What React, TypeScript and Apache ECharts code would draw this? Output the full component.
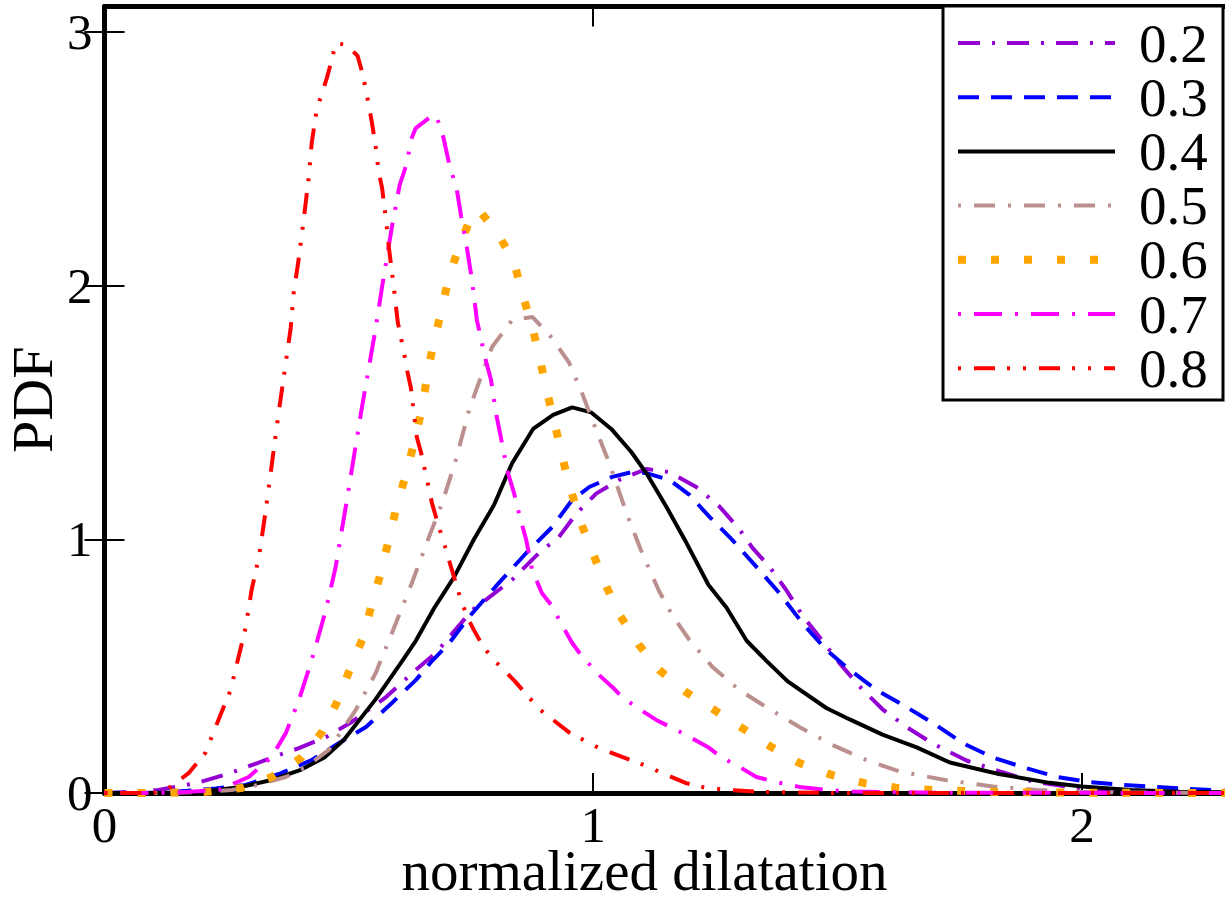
import React, { useEffect, useRef } from 'react';
import * as echarts from 'echarts';

const seriesNames = ['0.2', '0.3', '0.4', '0.5', '0.6', '0.7', '0.8'];
const xTicks = [0, 1, 2];
const yTicks = [0, 1, 2, 3];
const xTitle = 'normalized dilatation';
const yTitle = 'PDF';

const pdf02 = [[0,0],[0.05,0.003],[0.11,0.012],[0.19,0.04],[0.26,0.08],[0.35,0.145],[0.398,0.177],[0.453,0.22],[0.506,0.28],[0.576,0.378],[0.637,0.485],[0.678,0.552],[0.752,0.72],[0.834,0.84],[0.889,0.946],[0.93,1.009],[0.965,1.10],[1.006,1.18],[1.053,1.234],[1.109,1.277],[1.156,1.265],[1.211,1.206],[1.258,1.13],[1.299,1.04],[1.326,0.966],[1.361,0.891],[1.395,0.80],[1.428,0.70],[1.463,0.615],[1.504,0.512],[1.545,0.42],[1.592,0.33],[1.641,0.26],[1.695,0.195],[1.764,0.128],[1.832,0.085],[1.9,0.045],[1.969,0.025],[2.037,0.012],[2.1,0.006],[2.2,0.002],[2.3,0.001]];
const pdf03 = [[0,0],[0.1,0.002],[0.15,0.006],[0.227,0.018],[0.289,0.032],[0.357,0.075],[0.424,0.13],[0.48,0.197],[0.535,0.26],[0.588,0.355],[0.637,0.445],[0.67,0.52],[0.705,0.59],[0.746,0.694],[0.807,0.828],[0.863,0.946],[0.916,1.048],[0.957,1.155],[0.992,1.206],[1.039,1.246],[1.08,1.265],[1.109,1.261],[1.156,1.234],[1.197,1.175],[1.238,1.088],[1.285,0.997],[1.334,0.891],[1.381,0.788],[1.428,0.67],[1.477,0.564],[1.525,0.485],[1.58,0.406],[1.641,0.339],[1.695,0.276],[1.756,0.197],[1.818,0.14],[1.879,0.102],[1.949,0.063],[2.016,0.043],[2.084,0.032],[2.154,0.024],[2.22,0.016],[2.3,0.008]];
const pdf04 = [[0,0],[0.1,0.0],[0.2,0.005],[0.28,0.024],[0.34,0.05],[0.40,0.09],[0.45,0.14],[0.49,0.21],[0.555,0.37],[0.609,0.52],[0.637,0.60],[0.675,0.73],[0.715,0.85],[0.756,1.0],[0.797,1.135],[0.834,1.30],[0.877,1.435],[0.918,1.49],[0.957,1.52],[0.996,1.50],[1.037,1.435],[1.078,1.344],[1.109,1.26],[1.15,1.127],[1.191,0.985],[1.236,0.82],[1.273,0.73],[1.314,0.60],[1.355,0.52],[1.398,0.44],[1.477,0.335],[1.525,0.29],[1.592,0.23],[1.662,0.18],[1.73,0.12],[1.83,0.075],[1.934,0.04],[2.0,0.026],[2.1,0.012],[2.2,0.005],[2.3,0.003]];
const pdf05 = [[0,0],[0.1,0.0],[0.2,0.004],[0.26,0.012],[0.309,0.03],[0.371,0.063],[0.412,0.102],[0.459,0.17],[0.514,0.327],[0.555,0.473],[0.588,0.63],[0.629,0.828],[0.664,1.009],[0.691,1.143],[0.719,1.313],[0.746,1.51],[0.773,1.655],[0.793,1.758],[0.834,1.864],[0.876,1.876],[0.916,1.793],[0.951,1.695],[0.977,1.577],[1.006,1.431],[1.033,1.30],[1.068,1.104],[1.10,0.946],[1.135,0.795],[1.162,0.70],[1.197,0.603],[1.244,0.497],[1.299,0.406],[1.354,0.339],[1.422,0.26],[1.49,0.189],[1.559,0.13],[1.627,0.085],[1.72,0.051],[1.818,0.026],[1.908,0.012],[2.0,0.005],[2.1,0.002],[2.3,0.0]];
const pdf06 = [[0,0],[0.1,0.0],[0.2,0.003],[0.28,0.02],[0.342,0.063],[0.402,0.138],[0.445,0.24],[0.475,0.355],[0.5,0.477],[0.527,0.603],[0.545,0.729],[0.564,0.859],[0.58,0.985],[0.596,1.115],[0.615,1.245],[0.633,1.376],[0.648,1.502],[0.66,1.636],[0.672,1.766],[0.689,1.896],[0.703,2.02],[0.725,2.152],[0.752,2.278],[0.765,2.30],[0.803,2.211],[0.838,2.093],[0.855,1.967],[0.875,1.84],[0.891,1.71],[0.906,1.577],[0.922,1.45],[0.937,1.32],[0.955,1.19],[0.975,1.064],[1.0,0.942],[1.026,0.818],[1.056,0.696],[1.093,0.585],[1.135,0.485],[1.19,0.398],[1.248,0.327],[1.305,0.256],[1.365,0.181],[1.422,0.118],[1.488,0.071],[1.555,0.039],[1.623,0.02],[1.693,0.012],[1.8,0.005],[2.0,0.001],[2.3,0]];
const pdf07 = [[0,0],[0.1,0.0],[0.15,0.002],[0.234,0.012],[0.295,0.063],[0.342,0.142],[0.371,0.236],[0.398,0.367],[0.424,0.524],[0.453,0.721],[0.473,0.891],[0.496,1.155],[0.525,1.5],[0.555,1.833],[0.568,1.995],[0.588,2.23],[0.604,2.397],[0.619,2.483],[0.627,2.574],[0.637,2.621],[0.664,2.66],[0.678,2.672],[0.691,2.605],[0.705,2.483],[0.721,2.377],[0.73,2.27],[0.74,2.168],[0.752,2.022],[0.762,1.864],[0.78,1.707],[0.791,1.628],[0.801,1.498],[0.811,1.403],[0.824,1.273],[0.838,1.182],[0.848,1.104],[0.863,0.997],[0.875,0.879],[0.895,0.788],[0.914,0.741],[0.934,0.67],[0.957,0.591],[0.975,0.544],[1.012,0.465],[1.039,0.418],[1.059,0.378],[1.088,0.339],[1.129,0.288],[1.162,0.256],[1.19,0.229],[1.238,0.177],[1.264,0.138],[1.293,0.11],[1.334,0.063],[1.375,0.043],[1.422,0.024],[1.477,0.012],[1.53,0.006],[1.7,0.001],[2.3,0]];
const pdf08 = [[0,0],[0.1,0.0],[0.135,0.024],[0.172,0.078],[0.207,0.16],[0.219,0.22],[0.258,0.406],[0.289,0.654],[0.301,0.8],[0.316,0.93],[0.33,1.115],[0.355,1.48],[0.381,1.833],[0.387,1.97],[0.398,2.113],[0.41,2.298],[0.418,2.428],[0.424,2.562],[0.434,2.692],[0.445,2.759],[0.455,2.818],[0.465,2.889],[0.473,2.956],[0.496,2.948],[0.518,2.905],[0.527,2.842],[0.535,2.771],[0.547,2.645],[0.555,2.546],[0.561,2.448],[0.568,2.385],[0.576,2.259],[0.582,2.148],[0.592,1.995],[0.6,1.857],[0.613,1.734],[0.619,1.667],[0.627,1.596],[0.633,1.498],[0.639,1.403],[0.648,1.34],[0.66,1.234],[0.67,1.143],[0.68,1.076],[0.699,0.958],[0.709,0.891],[0.725,0.788],[0.742,0.694],[0.756,0.642],[0.773,0.583],[0.793,0.532],[0.84,0.44],[0.89,0.33],[0.95,0.24],[1.012,0.177],[1.059,0.142],[1.094,0.118],[1.141,0.079],[1.19,0.039],[1.223,0.024],[1.273,0.012],[1.35,0.004],[1.5,0.0],[2.3,0]];

const seriesData = [pdf02, pdf03, pdf04, pdf05, pdf06, pdf07, pdf08];

// styles
const colors = ['#9400D3', '#0000FF', '#000000', '#BC8F8F', '#FFA500', '#FF00FF', '#FF0000'];
const widths = [4, 4, 4, 4, 8, 4, 4];
const dashes: (number[] | 'solid')[] = [
  [22, 12, 3, 12],
  [21, 12],
  'solid',
  [3, 13, 21, 13],
  [8, 25],
  [3, 13, 28, 13],
  [3, 13, 21, 12, 3, 13],
];

const FONT = 'Liberation Serif';

export default function App() {
  const ref = useRef<HTMLDivElement>(null);
  useEffect(() => {
    if (!ref.current) return;
    const chart = echarts.init(ref.current, undefined, { renderer: 'svg' });
    const legendTop = 43;
    const legendStep = 54.2;
    const legendGraphics: any[] = [
      {
        type: 'rect',
        shape: { x: 943, y: 6, width: 280, height: 394 },
        style: { fill: '#ffffff', stroke: '#000000', lineWidth: 3 },
        z: 100,
      },
    ];
    seriesNames.forEach((name, i) => {
      const y = legendTop + i * legendStep;
      legendGraphics.push({
        type: 'line',
        shape: { x1: 958, y1: y, x2: 1115, y2: y },
        style: {
          stroke: colors[i],
          lineWidth: widths[i],
          lineDash: dashes[i] === 'solid' ? null : dashes[i],
        },
        z: 101,
      });
      legendGraphics.push({
        type: 'text',
        x: 1139,
        y: y,
        style: {
          text: name,
          fill: '#000',
          fontSize: 55,
          lineHeight: 40,
          fontFamily: FONT,
          verticalAlign: 'middle',
          align: 'left',
        },
        z: 101,
      });
    });

    const intFmt = (v: number) => (Number.isInteger(v) ? String(v) : '');

    chart.setOption({
      animation: false,
      backgroundColor: '#ffffff',
      grid: { left: 104.5, right: -3.5, top: 6.5, bottom: 116, containLabel: false, outerBoundsMode: 'none' },
      xAxis: [
        {
          type: 'value',
          min: 0,
          max: 2.3,
          interval: 1,
          position: 'bottom',
          name: xTitle,
          nameLocation: 'middle',
          nameGap: 54,
          nameMoveOverlap: false,
          nameTextStyle: { fontSize: 57, lineHeight: 46, fontFamily: FONT, color: '#000', padding: [0, 44, 0, 0] },
          axisLine: { show: true, onZero: false, lineStyle: { color: '#000', width: 5 } },
          axisTick: { show: true, inside: true, length: 20, customValues: xTicks, lineStyle: { color: '#000', width: 2 } },
          axisLabel: { show: true, margin: 11.5, lineHeight: 40, fontSize: 51, fontFamily: FONT, color: '#000', customValues: xTicks, formatter: intFmt },
          splitLine: { show: false },
        },
        {
          type: 'value',
          min: 0,
          max: 2.3,
          interval: 1,
          position: 'top',
          axisLine: { show: true, onZero: false, lineStyle: { color: '#000', width: 5 } },
          axisTick: { show: true, inside: true, length: 20, customValues: xTicks, lineStyle: { color: '#000', width: 2 } },
          axisLabel: { show: false },
          splitLine: { show: false },
        },
      ],
      yAxis: [
        {
          type: 'value',
          min: 0,
          max: 3.1,
          interval: 1,
          position: 'left',
          name: yTitle,
          nameLocation: 'middle',
          nameGap: 43,
          nameMoveOverlap: false,
          nameTextStyle: { fontSize: 58, lineHeight: 58, fontFamily: FONT, color: '#000' },
          axisLine: { show: true, onZero: false, lineStyle: { color: '#000', width: 5 } },
          axisTick: { show: true, inside: true, length: 20, customValues: yTicks, lineStyle: { color: '#000', width: 2 } },
          axisLabel: { show: true, margin: 12, fontSize: 51, fontFamily: FONT, color: '#000', customValues: yTicks, formatter: intFmt },
          splitLine: { show: false },
        },
        {
          type: 'value',
          min: 0,
          max: 3.1,
          interval: 1,
          position: 'right',
          axisLine: { show: false },
          axisTick: { show: true, inside: true, length: 20, customValues: yTicks, lineStyle: { color: '#000', width: 2 } },
          axisLabel: { show: false },
          splitLine: { show: false },
        },
      ],
      series: seriesNames.map((name, i) => ({
        name,
        type: 'line',
        data: seriesData[i],
        xAxisIndex: 0,
        yAxisIndex: 0,
        showSymbol: false,
        symbol: 'none',
        smooth: false,
        lineStyle: { color: colors[i], width: widths[i], type: dashes[i], cap: 'butt' },
        itemStyle: { color: colors[i] },
        z: 2 + i,
      })),
      graphic: legendGraphics,
    });
    return () => chart.dispose();
  }, []);
  return (
    <div
      ref={ref}
      style={{ position: 'fixed', left: 0, top: 0, width: 1225, height: 909, background: '#fff' }}
    />
  );
}
